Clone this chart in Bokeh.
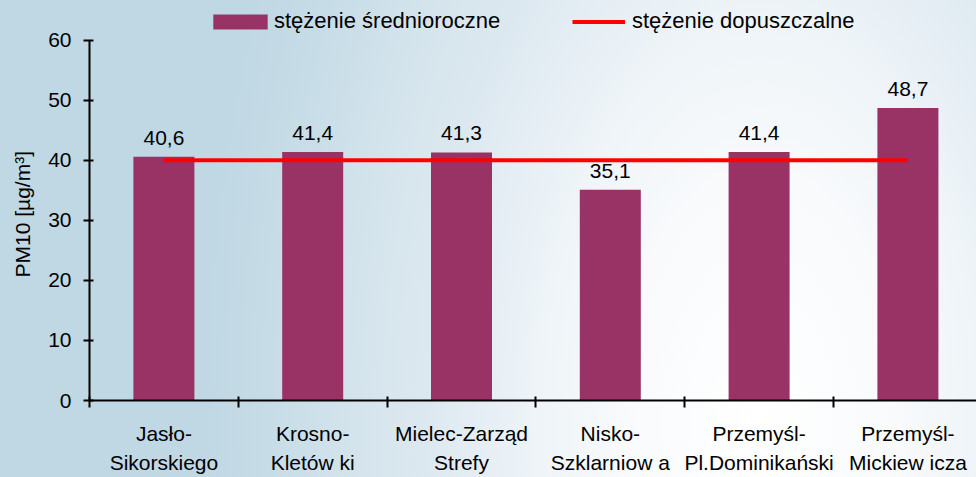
from bokeh.plotting import figure
from bokeh.models import Range1d, FixedTicker, Legend, LegendItem, Title
from bokeh.core.properties import value
from bokeh.embed import file_html
from bokeh.resources import INLINE

# ---- data ----
stations = ["Jasło-\nSikorskiego", "Krosno-\nKletów ki", "Mielec-Zarząd\nStrefy",
            "Nisko-\nSzklarniow a", "Przemyśl-\nPl.Dominikański", "Przemyśl-\nMickiew icza"]
mean_values = [40.6, 41.4, 41.3, 35.1, 41.4, 48.7]
limit_value = 40
y_ticks = [0, 10, 20, 30, 40, 50, 60]
series_names = ["stężenie średnioroczne", "stężenie dopuszczalne"]
y_title = "PM10 [µg/m³]"

FONT = "Liberation Sans"
BAR = "#993366"

xs = [i + 0.5 for i in range(len(stations))]
bounds_x = list(range(len(stations)))
labels = [f"{v:.1f}".replace(".", ",") for v in mean_values]

p = figure(width=976, height=477, output_backend="svg", toolbar_location=None,
           x_range=Range1d(0, 5.961), y_range=Range1d(0, 66.61),
           min_border_left=89, min_border_right=0, min_border_top=0, min_border_bottom=74)
p.background_fill_color = None
p.border_fill_color = None
p.outline_line_color = None
p.grid.visible = False
p.styles = {"background": "radial-gradient(ellipse 560px 1000px at 760px 420px, "
                          "#ffffff 0%, #f8fafc 25%, #eef4f8 40%, #dce8f0 60%, "
                          "#d6e5ed 70%, #c6dce7 88%, #c0d8e4 100%)"}

bars = p.vbar(x=xs, top=mean_values, width=0.41, fill_color=BAR, line_color=None)
line = p.line(x=[xs[0], xs[-1]], y=[limit_value, limit_value], line_color="#ff0000", line_width=4)
p.text(x=xs, y=mean_values, text=labels, text_align="center", text_baseline="alphabetic",
       y_offset=-19, text_font=value(FONT), text_font_size="21px", text_color="black")

# x axis
xa = p.xaxis[0]
xa.ticker = FixedTicker(ticks=xs, minor_ticks=bounds_x)
xa.major_label_overrides = {x: s for x, s in zip(xs, stations)}
xa.major_tick_in = 0
xa.major_tick_out = 0
xa.minor_tick_in = 4
xa.minor_tick_out = 7
xa.minor_tick_line_width = 2
xa.minor_tick_line_color = "black"
xa.axis_line_width = 2
xa.axis_line_color = "black"
xa.major_label_text_font = FONT
xa.major_label_text_font_size = "21px"
xa.major_label_text_color = "black"
xa.major_label_text_line_height = 1.3
xa.major_label_standoff = 14

# y axis
ya = p.yaxis[0]
ya.ticker = FixedTicker(ticks=y_ticks)
ya.bounds = (0, 60)
ya.major_tick_in = 4
ya.major_tick_out = 6
ya.minor_tick_in = 0
ya.minor_tick_out = 0
ya.major_tick_line_width = 2
ya.major_tick_line_color = "black"
ya.axis_line_width = 2
ya.axis_line_color = "black"
ya.major_label_text_font = FONT
ya.major_label_text_font_size = "21px"
ya.major_label_text_color = "black"
ya.major_label_standoff = 12

ytitle = Title(text=y_title, align="left", vertical_align="top", offset=123, standoff=19,
               text_font=FONT, text_font_size="21px", text_font_style="normal",
               text_color="black")
p.add_layout(ytitle, "left")

common = dict(orientation="horizontal", padding=0, margin=0, border_line_color=None,
              background_fill_alpha=0, label_text_font=FONT, label_text_font_size="22px",
              label_text_color="black")
legend_bar = Legend(items=[LegendItem(label=series_names[0], renderers=[bars])],
                    location=(117, 366), glyph_width=68, glyph_height=19, label_standoff=0,
                    **common)
legend_line = Legend(items=[LegendItem(label=series_names[1], renderers=[line])],
                     location=(483, 366), glyph_width=53, glyph_height=19, label_standoff=7,
                     **common)
p.add_layout(legend_bar)
p.add_layout(legend_line)

open("out.html", "w").write(file_html(p, INLINE))
